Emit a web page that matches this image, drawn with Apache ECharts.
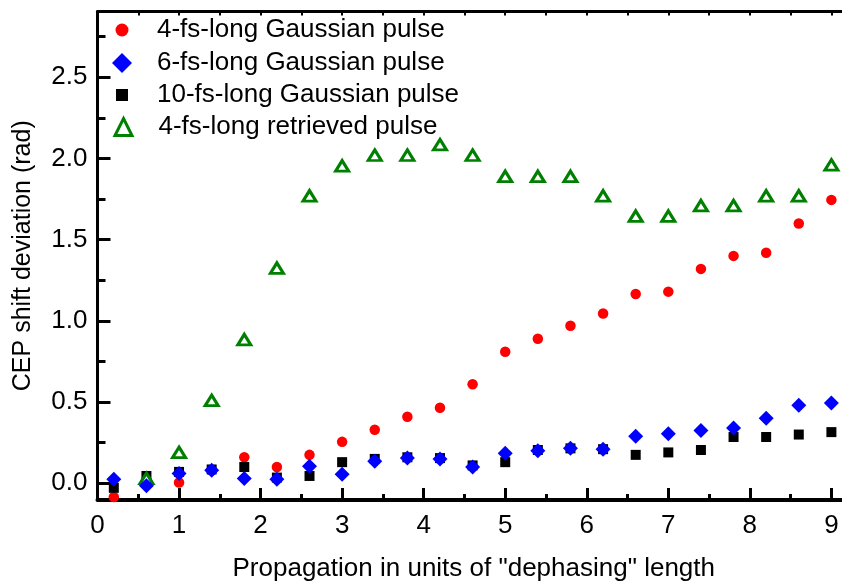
<!DOCTYPE html>
<html>
<head>
<meta charset="utf-8">
<script src="https://cdn.jsdelivr.net/npm/echarts@6/dist/echarts.min.js"></script>
<style>html,body{margin:0;padding:0;background:#fff;}#chart{width:842px;height:585px;}</style>
</head>
<body>
<div id="chart"></div>
<script>
const xValues = [0.2, 0.6, 1.0, 1.4, 1.8, 2.2, 2.6, 3.0, 3.4, 3.8, 4.2, 4.6, 5.0, 5.4, 5.8, 6.2, 6.6, 7.0, 7.4, 7.8, 8.2, 8.6, 9.0];
const gauss4 = [-0.085, 0.02, 0.005, 0.08, 0.16, 0.10, 0.175, 0.255, 0.33, 0.41, 0.465, 0.61, 0.81, 0.89, 0.97, 1.045, 1.165, 1.18, 1.32, 1.40, 1.42, 1.60, 1.745];
const gauss6 = [0.025, -0.015, 0.06, 0.08, 0.03, 0.025, 0.105, 0.055, 0.135, 0.155, 0.15, 0.10, 0.185, 0.20, 0.215, 0.21, 0.29, 0.305, 0.325, 0.34, 0.40, 0.48, 0.495];
const gauss10 = [-0.028, 0.045, 0.07, 0.085, 0.10, 0.035, 0.045, 0.13, 0.15, 0.16, 0.155, 0.11, 0.13, 0.205, 0.215, 0.21, 0.175, 0.19, 0.205, 0.285, 0.285, 0.30, 0.315];
const retrievedX = [0.6, 1.0, 1.4, 1.8, 2.2, 2.6, 3.0, 3.4, 3.8, 4.2, 4.6, 5.0, 5.4, 5.8, 6.2, 6.6, 7.0, 7.4, 7.8, 8.2, 8.6, 9.0];
const retrieved4 = [0.03, 0.19, 0.51, 0.885, 1.325, 1.77, 1.955, 2.02, 2.02, 2.085, 2.02, 1.89, 1.89, 1.89, 1.77, 1.645, 1.645, 1.71, 1.71, 1.77, 1.77, 1.96];
const seriesNames = ['4-fs-long Gaussian pulse', '6-fs-long Gaussian pulse', '10-fs-long Gaussian pulse', '4-fs-long retrieved pulse'];
const xTicks = [0, 1, 2, 3, 4, 5, 6, 7, 8, 9];
const xMinorTicks = [0.5, 1.5, 2.5, 3.5, 4.5, 5.5, 6.5, 7.5, 8.5];
const topTicks = [0.5, 1, 1.5, 2, 2.5, 3, 3.5, 4, 4.5, 5, 5.5, 6, 6.5, 7, 7.5, 8, 8.5, 9];
const yTicks = [0, 0.5, 1.0, 1.5, 2.0, 2.5];
const yMinorTicks = [0.25, 0.75, 1.25, 1.75, 2.25, 2.75];
const xTitle = 'Propagation in units of "dephasing" length';
const yTitle = 'CEP shift deviation (rad)';

const FONT = '"Liberation Sans", Arial, Helvetica, sans-serif';
const XMIN = 0, XMAX = 9.13, YMIN = -0.103, YMAX = 2.905;

function zip(xs, ys) { return xs.map((x, i) => [x, ys[i]]); }

const chart = echarts.init(document.getElementById('chart'), null, {renderer: 'canvas'});

function legendAt(name, centerY, size) {
  const textH = 26;
  const rowH = Math.max(size, textH);
  return {
    data: [name], left: 122 - size / 2, top: centerY - rowH / 2, padding: 0, orient: 'vertical',
    itemWidth: size, itemHeight: size, selectedMode: false,
    textStyle: {fontSize: 26, color: '#000', fontFamily: FONT, padding: [0, 0, 0, 30 - size / 2]},
    itemStyle: {borderWidth: name === seriesNames[3] ? 3 : 0, opacity: 1}
  };
}

const option = {
  animation: false,
  backgroundColor: '#fff',
  textStyle: {fontFamily: FONT},
  grid: {left: 97.5, right: 0, top: 11.5, bottom: 85, containLabel: false, outerBoundsMode: 'none'},
  legend: [
    legendAt(seriesNames[0], 30, 13),
    legendAt(seriesNames[1], 63, 20),
    legendAt(seriesNames[2], 95, 12),
    legendAt(seriesNames[3], 127, 17)
  ],
  xAxis: [
    {
      type: 'value', position: 'bottom', min: XMIN, max: XMAX,
      axisLine: {show: true, onZero: false, lineStyle: {color: '#000', width: 4}},
      axisTick: {show: true, inside: true, length: 12, customValues: xTicks, lineStyle: {color: '#000', width: 3}},
      axisLabel: {show: true, customValues: xTicks, margin: 13, fontSize: 26, color: '#000', fontFamily: FONT},
      splitLine: {show: false},
      name: xTitle, nameLocation: 'middle', nameGap: 56,
      nameTextStyle: {fontSize: 26, color: '#000', fontFamily: FONT, padding: [0, 0, 0, 8]}
    },
    {
      type: 'value', position: 'bottom', min: XMIN, max: XMAX,
      axisLine: {show: false, onZero: false},
      axisTick: {show: true, inside: true, length: 6, customValues: xMinorTicks, lineStyle: {color: '#000', width: 3}},
      axisLabel: {show: false},
      splitLine: {show: false}
    },
    {
      type: 'value', position: 'top', min: XMIN, max: XMAX,
      axisLine: {show: true, onZero: false, lineStyle: {color: '#000', width: 3}},
      axisTick: {show: true, inside: true, length: 4, customValues: topTicks, lineStyle: {color: '#000', width: 2}},
      axisLabel: {show: false},
      splitLine: {show: false}
    }
  ],
  yAxis: [
    {
      type: 'value', position: 'left', min: YMIN, max: YMAX,
      axisLine: {show: true, onZero: false, lineStyle: {color: '#000', width: 3}},
      axisTick: {show: true, inside: true, length: 13, customValues: yTicks, lineStyle: {color: '#000', width: 3}},
      axisLabel: {show: true, customValues: yTicks, margin: 10, fontSize: 26, color: '#000', fontFamily: FONT,
        formatter: v => Number(v).toFixed(1)},
      splitLine: {show: false},
      name: yTitle, nameLocation: 'middle', nameGap: 62, nameRotate: 90,
      nameTextStyle: {fontSize: 25, color: '#000', fontFamily: FONT}
    },
    {
      type: 'value', position: 'left', min: YMIN, max: YMAX,
      axisLine: {show: false, onZero: false},
      axisTick: {show: true, inside: true, length: 8, customValues: yMinorTicks, lineStyle: {color: '#000', width: 3}},
      axisLabel: {show: false},
      splitLine: {show: false}
    }
  ],
  series: [
    {
      name: seriesNames[0], type: 'scatter', xAxisIndex: 0, yAxisIndex: 0,
      symbol: 'circle', symbolSize: 10.5, symbolKeepAspect: true,
      itemStyle: {color: '#ff0000', opacity: 1},
      data: zip(xValues, gauss4)
    },
    {
      name: seriesNames[2], type: 'scatter', xAxisIndex: 0, yAxisIndex: 0,
      symbol: 'rect', symbolSize: 10, symbolKeepAspect: true,
      itemStyle: {color: '#000000', opacity: 1},
      data: zip(xValues, gauss10)
    },
    {
      name: seriesNames[3], type: 'scatter', xAxisIndex: 0, yAxisIndex: 0,
      symbol: 'triangle', symbolSize: [13, 10.5], symbolKeepAspect: true,
      itemStyle: {color: '#ffffff', borderColor: '#008000', borderWidth: 3, opacity: 1},
      data: zip(retrievedX, retrieved4)
    },
    {
      name: seriesNames[1], type: 'scatter', xAxisIndex: 0, yAxisIndex: 0,
      symbol: 'diamond', symbolSize: 15, symbolKeepAspect: true,
      itemStyle: {color: '#0000ff', opacity: 1},
      data: zip(xValues, gauss6)
    }
  ]
};
chart.setOption(option);
</script>
</body>
</html>
